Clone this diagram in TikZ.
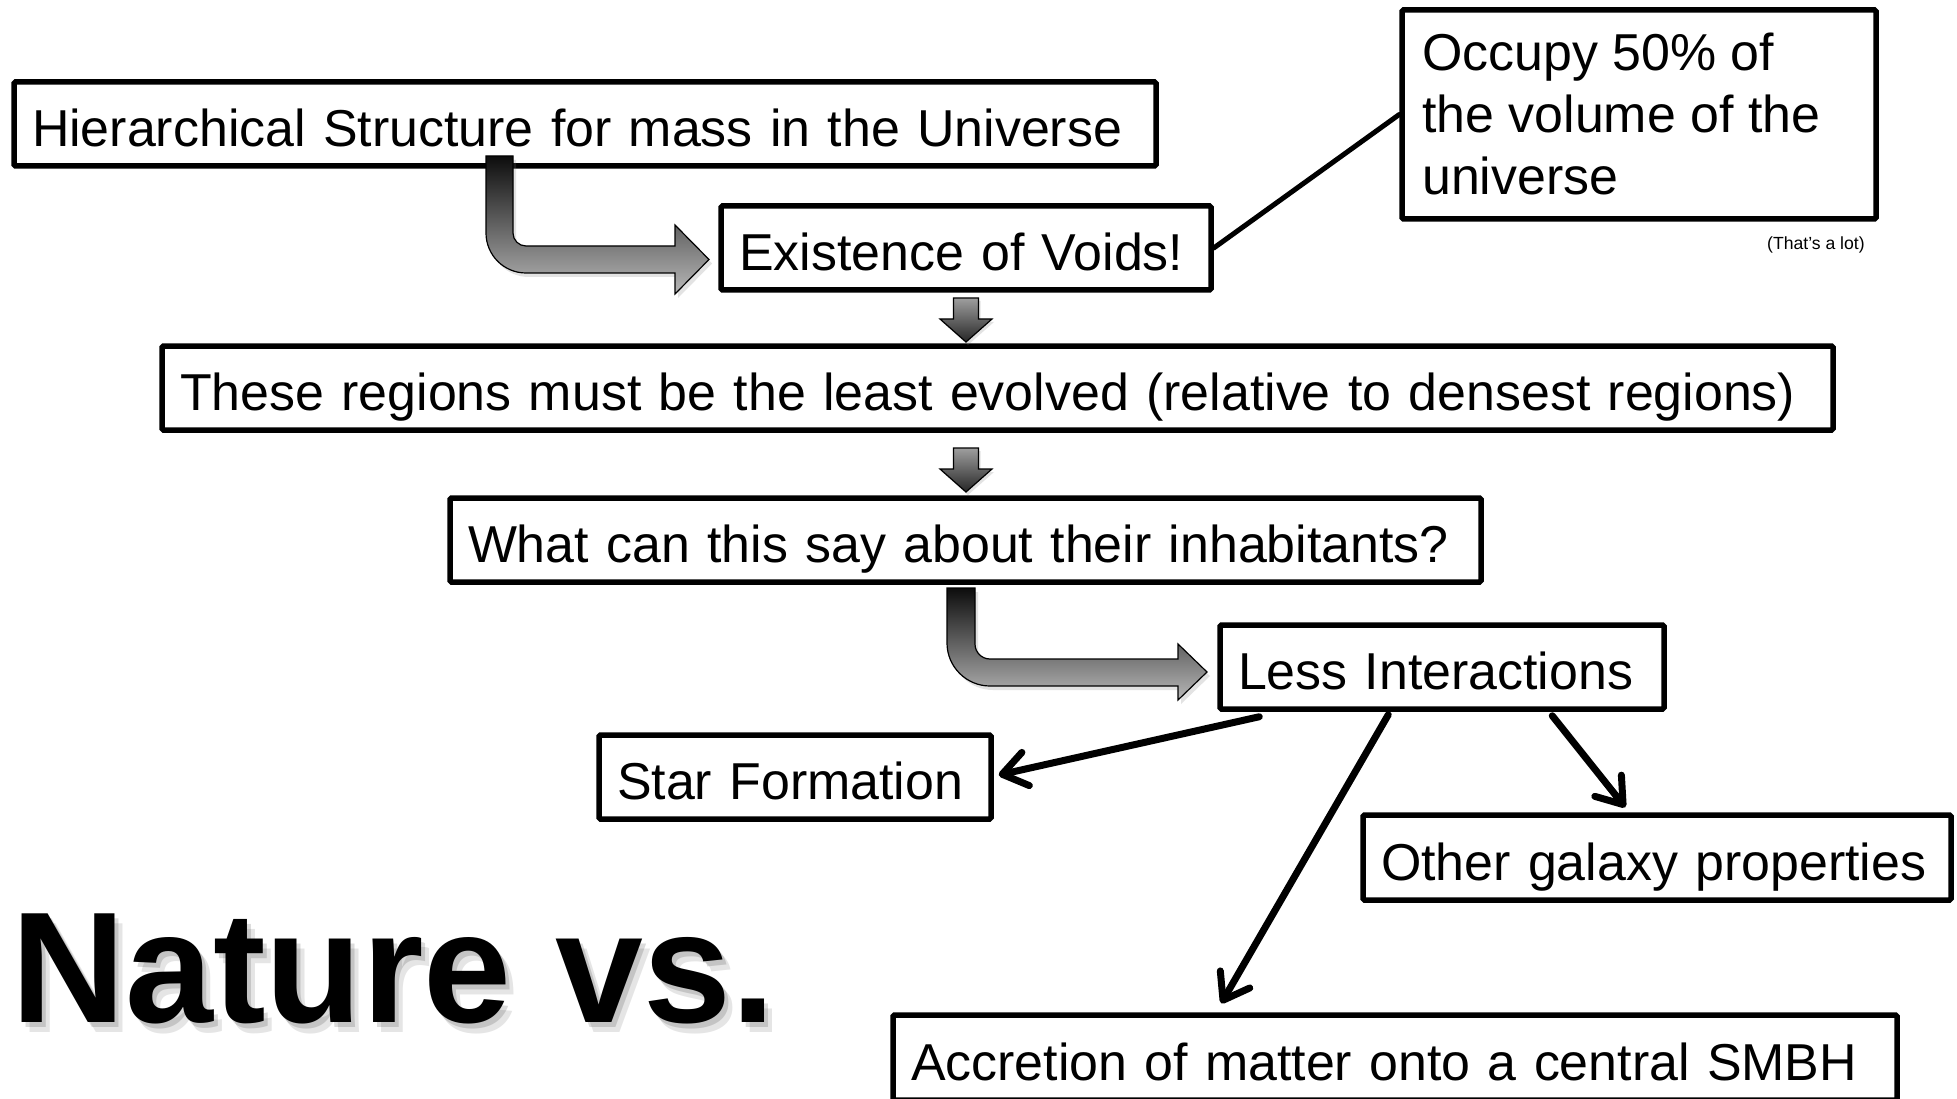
\documentclass[tikz,border=0pt]{standalone}
\usepackage{fontspec}
\setmainfont{Liberation Sans}
\usetikzlibrary{arrows.meta,calc,shadows}
\tikzset{
  box/.style={draw=black, line width=5.5pt, rounded corners=1.5pt, inner xsep=18pt, inner ysep=2pt,
    minimum height=84pt, text height=45pt, text depth=0pt, align=left,
    font=\fontsize{51.9pt}{62pt}\selectfont},
  txt/.style={inner sep=0pt, anchor=base west, font=\fontsize{51.9pt}{62pt}\selectfont},
  conn/.style={line width=7pt, line cap=round, -{Straight Barb[length=24pt,width=34pt,round]}},
  plainconn/.style={line width=5pt, line cap=round},
  bent/.style={draw=black, line width=1.2pt, top color=black!95, bottom color=black!28,
    drop shadow={opacity=0.22, shadow xshift=3pt, shadow yshift=-4pt}},
  downarr/.style={draw=black, line width=1.2pt, top color=black!38, bottom color=black!85,
    drop shadow={opacity=0.22, shadow xshift=2pt, shadow yshift=-3pt}},
  title/.style={inner sep=0pt, anchor=base west, font=\fontsize{158pt}{190pt}\selectfont\bfseries},
  small/.style={inner sep=0pt, anchor=base west, font=\fontsize{17.6pt}{20pt}\selectfont},
}
\begin{document}
\begin{tikzpicture}[x=1pt, y=-1pt]
\path[use as bounding box] (0,0) rectangle (1957,1099);
\clip (0,0) rectangle (1957,1099);
\fill[white] (0,0) rectangle (1957,1099);

% boxes
\node[box, minimum width=1142pt, text width=1106pt] (hier) at (585,124) {\mbox{Hierarchical Structure for mass in the Universe}};
\node[box, minimum width=490pt, text width=454pt] (voids) at (966,248) {\mbox{Existence of Voids!}};
\node[box, minimum width=474pt, minimum height=209pt, text width=438pt] (occ) at (1639,114.5) {};
\node[txt] (occ1) at (1422,71) {Occupy 50\% of};
\node[txt] (occ2) at (1422,133) {the volume of the};
\node[txt] (occ3) at (1422,195) {universe};
\node[small] (lot) at (1767,250) {(That’s a lot)};
\node[box, minimum width=1671pt, text width=1635pt] (least) at (997.5,388) {\mbox{These regions must be the least evolved (relative to densest regions)}};
\node[box, minimum width=1031pt, text width=995pt] (what) at (965.5,540) {\mbox{What can this say about their inhabitants?}};
\node[box, minimum width=444pt, text width=408pt] (less) at (1442,667) {\mbox{Less Interactions}};
\node[box, minimum width=392pt, text width=356pt] (star) at (795,777) {\mbox{Star Formation}};
\node[box, minimum width=588pt, minimum height=85pt, text width=552pt] (other) at (1657,857.5) {\mbox{Other galaxy properties}};
\node[box, minimum width=1004pt, minimum height=85pt, text width=968pt] (accr) at (1395,1057.5) {\mbox{Accretion of matter onto a central SMBH}};

% plain connector
\draw[plainconn] (voids.east) -- (occ.west);

% bent block arrows
\path[bent] (486,156) -- (513,156) -- (513,233) .. controls (513,240.2) and (518.8,246) .. (526,246)
  -- (675,246) -- (675,225) -- (709,259.5) -- (675,294) -- (675,273) -- (526,273)
  .. controls (503.9,273) and (486,255.1) .. (486,233) -- cycle;
\path[bent] (947,588) -- (975,588) -- (975,644) .. controls (975,652.3) and (981.7,659) .. (990,659)
  -- (1178,659) -- (1178,644) -- (1207,672) -- (1178,700) -- (1178,686) -- (990,686)
  .. controls (966.3,686) and (947,666.7) .. (947,643) -- cycle;

% small down arrows
\path[downarr] (953.5,298) -- (978.5,298) -- (978.5,319) -- (992,319) -- (966,342) -- (940,319) -- (953.5,319) -- cycle;
\path[downarr] (953.5,448) -- (978.5,448) -- (978.5,469) -- (992,469) -- (966,492) -- (940,469) -- (953.5,469) -- cycle;

% line arrows
\draw[conn] ($(less.south west)+(42,5)$) -- ($(star.east)+(5,-2)$);
\draw[conn] ($(less.south west)+(335,4)$) -- ($(other.north west)+(265,-5)$);
\draw[conn] ($(less.south west)+(171,3)$) -- ($(accr.north west)+(331,-9)$);

% title with soft shadow
\node[title, text=black, text opacity=0.10] (tsh1) at (19,1032) {Nature vs.};
\node[title, text=black, text opacity=0.14] (tsh2) at (15,1027) {Nature vs.};
\node[title] (nature) at (11,1022) {Nature vs.};
\node[title] (nurture) at (80,1210) {Nurture!};
\end{tikzpicture}
\end{document}
